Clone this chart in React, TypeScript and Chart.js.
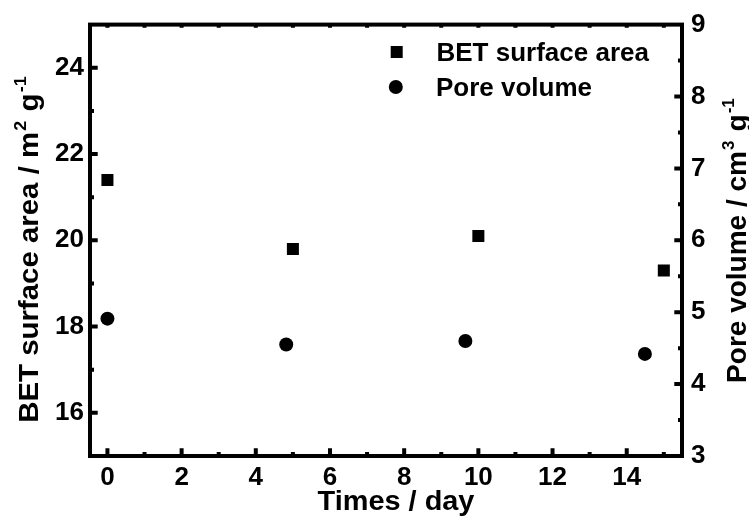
import React, { useEffect, useRef } from 'react';
import { Chart, registerables } from 'chart.js';

Chart.register(...registerables);

// ---- data ----
const betDays = [0, 5, 10, 15];
const betSurfaceArea = [21.4, 19.8, 20.1, 19.3];
const poreDays = [0, 4.82, 9.65, 14.49];
const poreVolume = [4.91, 4.55, 4.6, 4.42];

const xTickValues = [0, 2, 4, 6, 8, 10, 12, 14];
const xMinorValues = [1, 3, 5, 7, 9, 11, 13, 15];
const xTopValues = [1, 2, 3, 4, 5, 6, 7, 8, 9, 10, 11, 12, 13, 14, 15, 0];
const betTickValues = [16, 18, 20, 22, 24];
const betMinorValues = [17, 19, 21, 23];
const poreTickValues = [3, 4, 5, 6, 7, 8, 9];
const poreInnerMajor = [4, 5, 6, 7, 8];
const poreMinorValues = [3.5, 4.5, 5.5, 6.5, 7.5, 8.5];

const seriesLabels = ['BET surface area', 'Pore volume'];
const xTitle = 'Times / day';
const leftTitle = [
  { t: 'BET surface area / m', sup: false },
  { t: '2', sup: true },
  { t: ' g', sup: false },
  { t: '-1', sup: true },
];
const rightTitle = [
  { t: 'Pore volume / cm', sup: false },
  { t: '3', sup: true },
  { t: ' g', sup: false },
  { t: '-1', sup: true },
];

const FAMILY = '"Liberation Sans", Arial, Helvetica, sans-serif';

type Part = { t: string; sup: boolean };

function drawRich(
  ctx: CanvasRenderingContext2D,
  parts: Part[],
  cx: number,
  cy: number,
  rotation: number,
  size: number,
  stretch: number
) {
  ctx.save();
  ctx.translate(cx, cy);
  ctx.rotate(rotation);
  ctx.scale(stretch, 1);
  const mainFont = `bold ${size}px ${FAMILY}`;
  const supFont = `bold ${Math.round(size * 0.62)}px ${FAMILY}`;
  const gap = size * 0.08;
  let total = 0;
  const widths = parts.map((p) => {
    ctx.font = p.sup ? supFont : mainFont;
    const w = ctx.measureText(p.t).width + (p.sup ? gap : 0);
    total += w;
    return w;
  });
  let x = -total / 2;
  ctx.textAlign = 'left';
  ctx.textBaseline = 'alphabetic';
  ctx.fillStyle = '#000';
  parts.forEach((p, i) => {
    ctx.font = p.sup ? supFont : mainFont;
    ctx.fillText(p.t, x + (p.sup ? gap * 0.5 : 0), p.sup ? -size * 0.42 : 0);
    x += widths[i];
  });
  ctx.restore();
}

const framePlugin = {
  id: 'frameAndTitles',
  afterDraw(chart: any) {
    const { ctx, chartArea: a, scales } = chart;
    const xs = scales.x;
    const yl = scales.y;
    const yr = scales.y1;
    ctx.save();
    ctx.strokeStyle = '#000';
    ctx.lineWidth = 4;
    ctx.lineCap = 'butt';
    ctx.strokeRect(a.left, a.top, a.right - a.left, a.bottom - a.top);

    const major = 7.7;
    const minor = 4;
    ctx.beginPath();
    xTickValues.forEach((v) => {
      const px = xs.getPixelForValue(v);
      ctx.moveTo(px, a.bottom);
      ctx.lineTo(px, a.bottom - major);
    });
    xMinorValues.forEach((v) => {
      const px = xs.getPixelForValue(v);
      ctx.moveTo(px, a.bottom);
      ctx.lineTo(px, a.bottom - minor);
    });
    xTopValues.forEach((v) => {
      const px = xs.getPixelForValue(v);
      ctx.moveTo(px, a.top);
      ctx.lineTo(px, a.top + 3.2);
    });
    betTickValues.forEach((v) => {
      const py = yl.getPixelForValue(v);
      ctx.moveTo(a.left, py);
      ctx.lineTo(a.left + major, py);
    });
    betMinorValues.forEach((v) => {
      const py = yl.getPixelForValue(v);
      ctx.moveTo(a.left, py);
      ctx.lineTo(a.left + minor, py);
    });
    poreInnerMajor.forEach((v) => {
      const py = yr.getPixelForValue(v);
      ctx.moveTo(a.right, py);
      ctx.lineTo(a.right - major, py);
    });
    poreMinorValues.forEach((v) => {
      const py = yr.getPixelForValue(v);
      ctx.moveTo(a.right, py);
      ctx.lineTo(a.right - minor, py);
    });
    ctx.stroke();

    // axis titles
    drawRich(ctx, [{ t: xTitle, sup: false }], 396, 510, 0, 27, 1.07);
    drawRich(ctx, leftTitle, 37.5, 249, -Math.PI / 2, 28, 1.05);
    drawRich(ctx, rightTitle, 746, 240, -Math.PI / 2, 28, 1.0);

    // legend
    const ds = chart.data.datasets;
    ctx.fillStyle = '#000';
    ctx.fillRect(396.7 - 6, 52 - 6, 12, 12);
    ctx.beginPath();
    ctx.arc(395.8, 87, 7, 0, Math.PI * 2);
    ctx.fill();
    ctx.font = `bold 26px ${FAMILY}`;
    ctx.textAlign = 'left';
    ctx.textBaseline = 'alphabetic';
    ctx.fillText(ds[0].label, 436.5, 60.7);
    ctx.fillText(ds[1].label, 436, 96);
    ctx.restore();
  },
};

export default function App() {
  const ref = useRef<HTMLCanvasElement | null>(null);

  useEffect(() => {
    if (!ref.current) return;
    const tickFont = { family: FAMILY, size: 26, weight: 'bold' as const };
    const chart = new Chart(ref.current, {
      type: 'scatter',
      data: {
        datasets: [
          {
            label: seriesLabels[0],
            data: betDays.map((d, i) => ({ x: d, y: betSurfaceArea[i] })),
            yAxisID: 'y',
            pointStyle: 'rect',
            pointRadius: 8.5,
            pointHoverRadius: 8.5,
            backgroundColor: '#000',
            borderColor: '#000',
            borderWidth: 0,
          },
          {
            label: seriesLabels[1],
            data: poreDays.map((d, i) => ({ x: d, y: poreVolume[i] })),
            yAxisID: 'y1',
            pointStyle: 'circle',
            pointRadius: 7,
            pointHoverRadius: 7,
            backgroundColor: '#000',
            borderColor: '#000',
            borderWidth: 0,
          },
        ],
      },
      options: {
        animation: false,
        responsive: false,
        devicePixelRatio: 1,
        layout: { padding: { top: 22, left: 0, right: 0, bottom: 0 } },
        plugins: {
          legend: { display: false },
          tooltip: { enabled: false },
          title: { display: false },
        },
        scales: {
          x: {
            type: 'linear',
            position: 'bottom',
            min: -0.47,
            max: 15.49,
            grid: { display: false, drawTicks: false },
            border: { display: false },
            ticks: { font: tickFont, color: '#000', padding: 6, maxRotation: 0 },
            afterBuildTicks: (s: any) => {
              s.ticks = xTickValues.map((v) => ({ value: v }));
            },
            afterFit: (s: any) => {
              s.height = 60;
            },
          },
          y: {
            type: 'linear',
            position: 'left',
            min: 15,
            max: 25,
            grid: { display: false, drawTicks: false },
            border: { display: false },
            ticks: { font: tickFont, color: '#000', padding: 6 },
            afterBuildTicks: (s: any) => {
              s.ticks = betTickValues.map((v) => ({ value: v }));
            },
            afterFit: (s: any) => {
              s.width = 90;
            },
          },
          y1: {
            type: 'linear',
            position: 'right',
            min: 3,
            max: 9,
            grid: { display: false, drawTicks: false },
            border: { display: false },
            ticks: { font: tickFont, color: '#000', padding: 9 },
            afterBuildTicks: (s: any) => {
              s.ticks = poreTickValues.map((v) => ({ value: v }));
            },
            afterFit: (s: any) => {
              s.width = 67;
            },
          },
        },
      },
      plugins: [framePlugin],
    });
    return () => chart.destroy();
  }, []);

  return (
    <div
      style={{
        position: 'fixed',
        left: 0,
        top: 0,
        width: 749,
        height: 516,
        background: '#fff',
      }}
    >
      <canvas ref={ref} width={749} height={516} style={{ width: 749, height: 516 }} />
    </div>
  );
}
